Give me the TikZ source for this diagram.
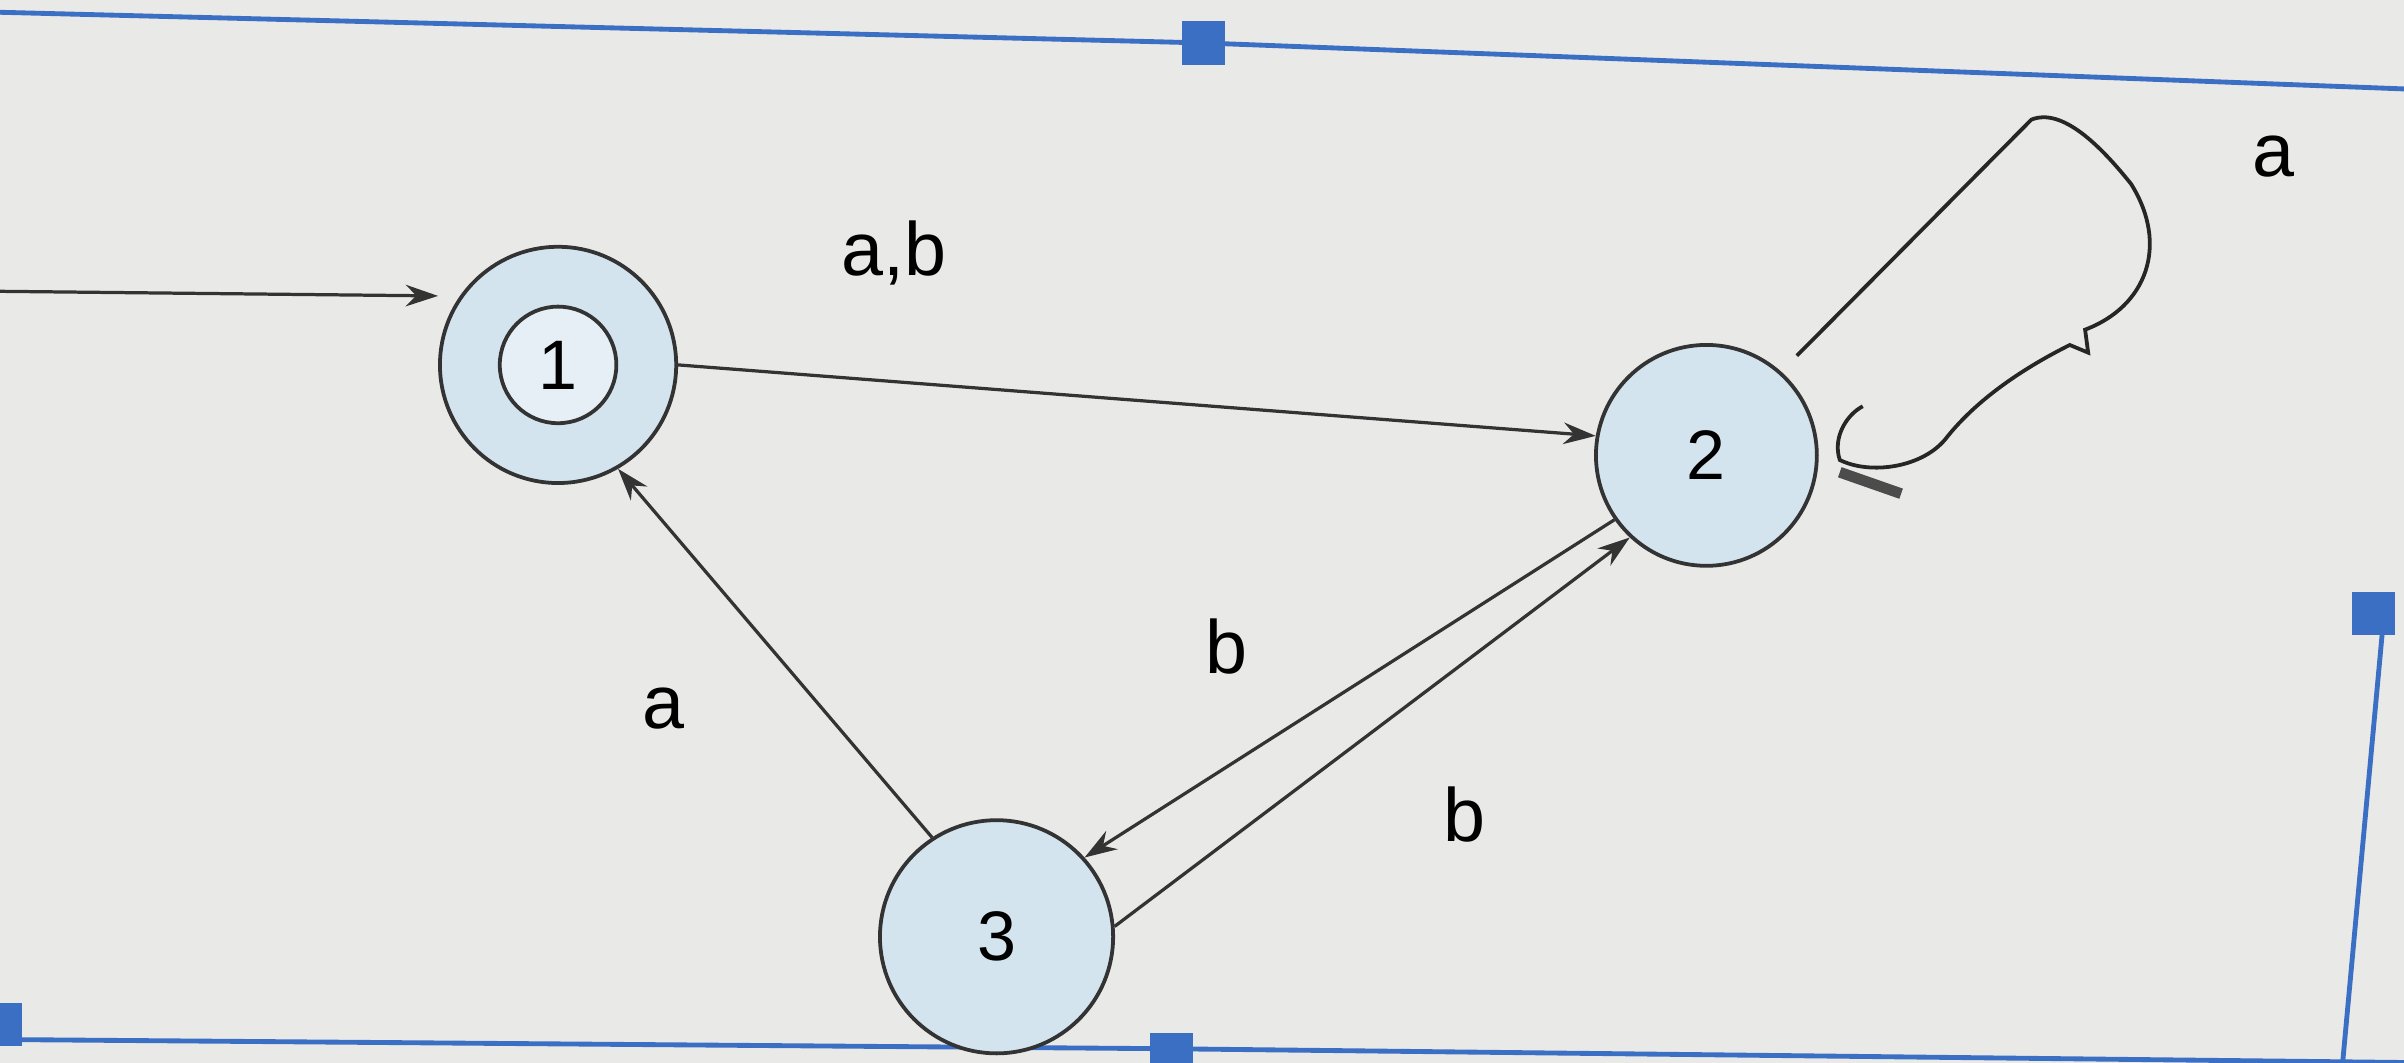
\documentclass[tikz,border=0pt]{standalone}
\usepackage{fontspec}
\setmainfont{Liberation Sans}
\usetikzlibrary{arrows.meta}
\begin{document}
\begin{tikzpicture}[x=0.01cm,y=-0.01cm,
  st/.style={circle,draw=black!80,fill=stfill,line width=0.7pt,inner sep=0pt,font=\fontsize{13}{15}\selectfont},
  ed/.style={draw=black!80,line width=0.6pt,-{Stealth[length=6pt,width=4pt]}},
  lbl/.style={font=\fontsize{14}{16}\selectfont},
  frame/.style={draw=frameblue,line width=0.9pt},
  handle/.style={fill=frameblue,minimum size=8pt,inner sep=0pt}]
\definecolor{stfill}{HTML}{D3E4EE}
\definecolor{bg}{HTML}{E9EAE8}
\definecolor{frameblue}{HTML}{3A6FC4}
\fill[bg] (0,0) rectangle (1568,693);
\useasboundingbox (0,0) rectangle (1568,693);
% frame
\coordinate (f1) at (0,8); \coordinate (f2) at (785,28); \coordinate (f3) at (1568,58);
\coordinate (f4) at (1555,400); \coordinate (f5) at (1528,693);
\coordinate (b1) at (0,678); \coordinate (b2) at (1568,693);
\draw[frame] (f1) -- (f2) -- (f3);
\draw[frame] (f4) -- (f5);
\draw[frame] (b1) -- (760,684) -- (b2);
\node[handle] (h1) at (f2) {};
\node[handle] (h2) at (1548,400) {};
\node[handle] (h3) at (764,688) {};
\node[handle] (h4) at (0,668) {};
% states
\node[st,minimum size=1.54cm] (n1o) at (364,238) {};
\node[st,fill=stfill!60,minimum size=0.76cm] (n1i) at (364,238) {1};
\node[st,minimum size=1.44cm] (n2) at (1113,297) {2};
\node[st,minimum size=1.52cm] (n3) at (650,611) {3};
\coordinate (s0) at (0,190);
\draw[ed] (s0) -- (n1o.west |- 0,193);
\draw[ed] (n1o.east) -- (n2.170);
\draw[ed] (n2.215) -- (n3.42);
\draw[ed] (n3.5) -- (n2.227);
\draw[ed] (n3.123) -- (n1o.300);
\node[lbl] (l1) at (583,165) {a,b};
\node[lbl] (l2) at (800,422) {b};
\node[lbl] (l3) at (955,531) {b};
\node[lbl] (l4) at (433,462) {a};
\node[lbl] (l5) at (1483,102) {a};
% self loop on 2 (hand drawn)
\coordinate (la) at (1172,232); \coordinate (lb) at (1240,322);
\draw[black!85,line width=0.7pt] (la) -- (1325,78) .. controls (1345,70) and (1370,95) .. (1390,120)
  .. controls (1415,160) and (1400,200) .. (1360,215) -- (1362,230) -- (1350,225)
  .. controls (1320,240) and (1290,260) .. (1270,285)
  .. controls (1255,305) and (1220,310) .. (1200,300)
  .. controls (1195,285) and (1205,270) .. (1215,265);
\draw[black!70,line width=2pt] (1200,308) -- (lb);
\end{tikzpicture}
\end{document}
